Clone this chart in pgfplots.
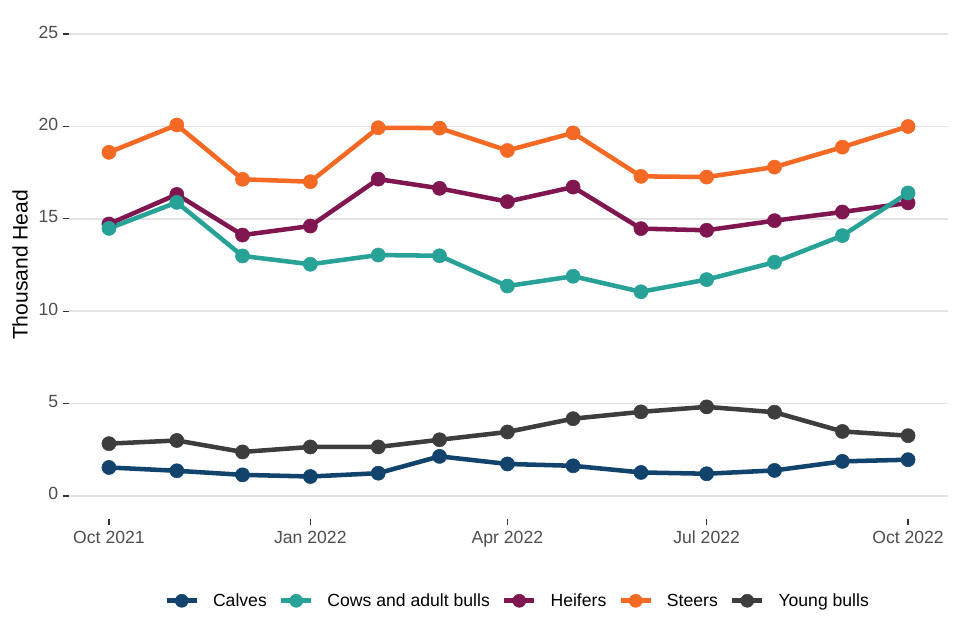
\documentclass[border=0pt]{standalone}
\usepackage{pgfplots}
\pgfplotsset{compat=1.18}
\usepackage{fontspec}
\setmainfont{Liberation Sans}

\definecolor{calves}{HTML}{12436D}
\definecolor{cows}{HTML}{28A197}
\definecolor{heifers}{HTML}{801650}
\definecolor{steers}{HTML}{F46A25}
\definecolor{young}{HTML}{3D3D3D}
\definecolor{gridgrey}{HTML}{E3E3E3}
\definecolor{ticktext}{HTML}{4D4D4D}

% x = days since 1 Oct 2021
\pgfplotstableread{
x     calves cows  heifers steers young
0     1.54   14.48 14.72   18.60  2.83
31    1.36   15.89 16.32   20.08  3.00
61    1.14   12.99 14.12   17.14  2.38
92    1.05   12.54 14.61   17.01  2.65
123   1.23   13.04 17.15   19.93  2.65
151   2.14   13.00 16.65   19.91  3.04
182   1.73   11.36 15.93   18.70  3.46
212   1.63   11.89 16.72   19.65  4.18
243   1.27   11.05 14.47   17.30  4.55
273   1.20   11.71 14.38   17.26  4.82
304   1.38   12.65 14.90   17.80  4.53
335   1.87   14.09 15.37   18.88  3.49
365   1.96   16.40 15.86   20.00  3.26
}\cattle

\begin{document}
\begin{tikzpicture}
\path[use as bounding box] (0pt,0pt) rectangle (720pt,480pt);
\begin{axis}[
  at={(51.75pt,90.75pt)}, anchor=south west,
  scale only axis, width=659.25pt, height=381pt,
  xmin=-18.25, xmax=383.25,
  ymin=-1.25, ymax=26.25,
  xtick={0,92,182,273,365},
  xticklabels={Oct 2021, Jan 2022, Apr 2022, Jul 2022, Oct 2022},
  ytick={0,5,10,15,20,25},
  axis line style={draw=none},
  xtick pos=bottom, ytick pos=left,
  tick align=outside, major tick length=4.5pt,
  tick style={color=black!80, line width=1pt},
  ymajorgrids, grid style={color=gridgrey, line width=1.1pt},
  /pgf/number format/assume math mode=true,
  typeset ticklabels with strut,
  tick label style={font=\fontsize{13.2}{15}\selectfont, text=ticktext},
  ylabel={Thousand Head},
  ylabel style={at={(axis description cs:-0.0557,0.5)}, anchor=center, font=\fontsize{15.8}{17}\selectfont},
  every axis plot/.append style={line width=3.4pt, mark=*, mark size=5.3pt,
    mark options={solid, line width=0.4pt}},
  legend image code/.code={\draw[mark repeat=2, mark phase=2, #1, mark size=4.9pt] plot coordinates {(0pt,0pt) (11.25pt,0pt) (22.5pt,0pt)};},
  legend columns=5,
  legend style={at={(axis description cs:0.51,-0.161)}, anchor=center, draw=none, fill=none,
    font=\fontsize{13.2}{15}\selectfont, inner sep=0pt,
    nodes={inner sep=1pt},
    /tikz/every odd column/.append style={column sep=9.4pt},
    /tikz/every even column/.append style={column sep=8pt}},
]
\addplot[calves, forget plot] table[x=x, y=calves] {\cattle};
\addplot[heifers, forget plot] table[x=x, y=heifers] {\cattle};
\addplot[cows, forget plot] table[x=x, y=cows] {\cattle};
\addplot[steers, forget plot] table[x=x, y=steers] {\cattle};
\addplot[young, forget plot] table[x=x, y=young] {\cattle};

\addlegendimage{calves, line width=3.6pt, mark=*, mark options={solid, line width=0.4pt}}
\addlegendentry{\strut Calves}
\addlegendimage{cows, line width=3.6pt, mark=*, mark options={solid, line width=0.4pt}}
\addlegendentry{\strut Cows and adult bulls}
\addlegendimage{heifers, line width=3.6pt, mark=*, mark options={solid, line width=0.4pt}}
\addlegendentry{\strut Heifers}
\addlegendimage{steers, line width=3.6pt, mark=*, mark options={solid, line width=0.4pt}}
\addlegendentry{\strut Steers}
\addlegendimage{young, line width=3.6pt, mark=*, mark options={solid, line width=0.4pt}}
\addlegendentry{\strut Young bulls}
\end{axis}
\end{tikzpicture}
\end{document}
